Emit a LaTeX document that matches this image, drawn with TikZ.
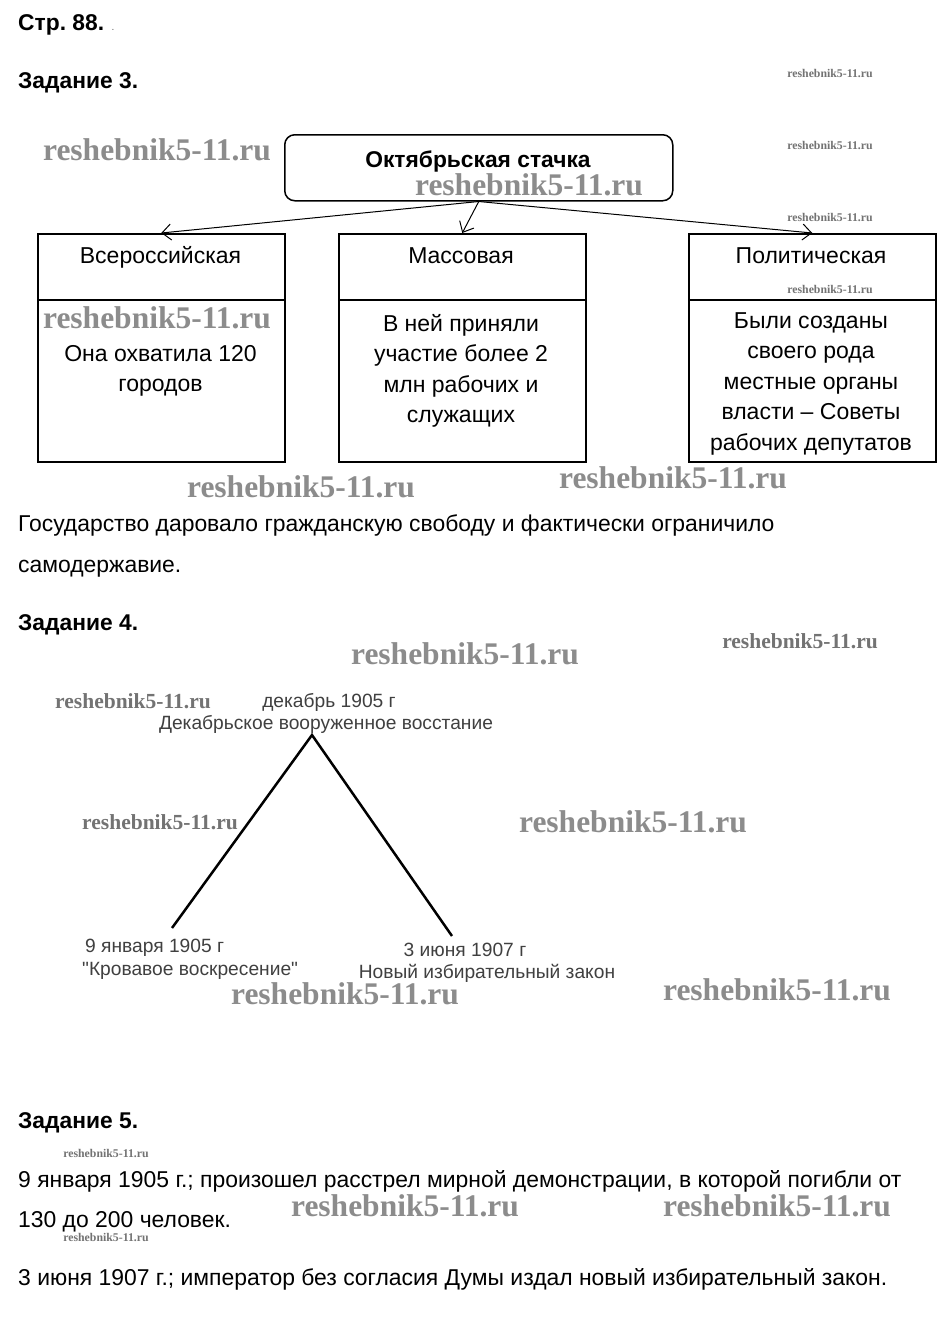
\documentclass[tikz,border=0pt]{standalone}
\usepackage{fontspec}
\setmainfont{Liberation Sans}
\newfontfamily\wmfont{Liberation Serif}
\newfontfamily\plainsans{Liberation Sans}
\usetikzlibrary{arrows.meta}
\frenchspacing
\begin{document}
\begin{tikzpicture}[x=1pt,y=-1pt,
  hdr/.style={font=\bfseries\fontsize{22.8}{26}\selectfont, anchor=base west, inner sep=0pt},
  body/.style={font=\fontsize{22.9}{40}\selectfont, anchor=base west, inner sep=0pt},
  cell/.style={draw, line width=1.5pt, anchor=north west, minimum width=247pt, inner sep=0pt},
  celltxt/.style={font=\fontsize{23}{30.5}\selectfont, align=center, inner sep=0pt},
  arr/.style={-{Straight Barb[length=9pt,width=16pt]}, line width=1pt},
  small/.style={font=\plainsans\fontsize{19.2}{22}\selectfont, text=black!75, inner sep=0pt, anchor=base},
  wmL/.style={font=\wmfont\bfseries\fontsize{31.5}{31.5}\selectfont, text=black!45, inner sep=0pt},
  wmM/.style={font=\wmfont\bfseries\fontsize{21.5}{21.5}\selectfont, text=black!55, inner sep=0pt},
  wmS/.style={font=\wmfont\bfseries\fontsize{11.8}{11.8}\selectfont, text=black!55, inner sep=0pt}]
\useasboundingbox[fill=white] (0,0) rectangle (940,1339);

% headings
\node[hdr] (p88) at (18,30) {Стр. 88.};
\node[font=\fontsize{10}{10}\selectfont, text=black!60, inner sep=0pt, anchor=base] (dot) at (113,30) {.};
\node[hdr] (z3) at (18,88) {Задание 3.};

% task 3 diagram
\node[draw, line width=1.5pt, rounded corners=10pt, minimum width=388pt, minimum height=66pt, anchor=north west, inner sep=0pt] (top) at (284,134) {};
\node[font=\bfseries\fontsize{22.8}{26}\selectfont, inner sep=0pt, anchor=base] (toptxt) at (478,167) {Октябрьская стачка};

\node[cell, minimum height=66pt] (h1) at (37,233) {};
\node[cell, minimum height=162pt] (c1) at (37,299) {};
\node[cell, minimum height=66pt] (h2) at (338,233) {};
\node[cell, minimum height=162pt] (c2) at (338,299) {};
\node[cell, minimum height=66pt] (h3) at (688,233) {};
\node[cell, minimum height=162pt] (c3) at (688,299) {};

\node[celltxt, anchor=base] (h1t) at (160.5,263) {Всероссийская};
\node[celltxt, anchor=base] (h2t) at (461,263) {Массовая};
\node[celltxt, anchor=base] (h3t) at (811,263) {Политическая};
\node[celltxt, anchor=north] (c1t) at (160.5,345) {Она охватила 120\\городов};
\node[celltxt, anchor=north] (c2t) at (461,314) {В ней приняли\\участие более 2\\млн рабочих и\\служащих};
\node[celltxt, anchor=north] (c3t) at (811,312) {Были созданы\\своего рода\\местные органы\\власти – Советы\\рабочих депутатов};

\draw[arr] (top.south) -- (h1.north);
\draw[arr] (top.south) -- (h2.north);
\draw[arr] (top.south) -- (h3.north);

\node[body] (t3a) at (18,531) {Государство даровало гражданскую свободу и фактически ограничило};
\node[body] (t3b) at (18,572) {самодержавие.};

% task 4
\node[hdr] (z4) at (18,630) {Задание 4.};
\node[small] (dec1) at (329,707) {декабрь 1905 г};
\node[small] (dec2) at (326,729) {Декабрьское вооруженное восстание};
\coordinate (apex) at (312,735);
\coordinate (lft) at (172,928);
\coordinate (rgt) at (452,936);
\draw[line width=2.5pt] (lft) -- (apex) -- (rgt);
\node[small, anchor=base west] (jan1) at (85,952) {9 января 1905 г};
\node[small, anchor=base west] (jan2) at (82,975) {"Кровавое воскресение"};
\node[small] (jun1) at (465,956) {3 июня 1907 г};
\node[small] (jun2) at (487,978) {Новый избирательный закон};

% task 5
\node[hdr] (z5) at (18,1128) {Задание 5.};
\node[body] (t5a) at (18,1187) {9 января 1905 г.; произошел расстрел мирной демонстрации, в которой погибли от};
\node[body] (t5b) at (18,1227) {130 до 200 человек.};
\node[body] (t5c) at (18,1285) {3 июня 1907 г.; император без согласия Думы издал новый избирательный закон.};

% watermarks
\node[wmL] (w1) at (157,150) {reshebnik5-11.ru};
\node[wmL] (w2) at (529,185) {reshebnik5-11.ru};
\node[wmL] (w3) at (157,318) {reshebnik5-11.ru};
\node[wmL] (w4) at (301,487) {reshebnik5-11.ru};
\node[wmL] (w5) at (673,478) {reshebnik5-11.ru};
\node[wmL] (w6) at (465,654) {reshebnik5-11.ru};
\node[wmL] (w7) at (633,822) {reshebnik5-11.ru};
\node[wmL] (w8) at (345,994) {reshebnik5-11.ru};
\node[wmL] (w9) at (777,990) {reshebnik5-11.ru};
\node[wmL] (w10) at (405,1206) {reshebnik5-11.ru};
\node[wmL] (w11) at (777,1206) {reshebnik5-11.ru};
\node[wmM] (w12) at (133,701) {reshebnik5-11.ru};
\node[wmM] (w13) at (160,822) {reshebnik5-11.ru};
\node[wmM] (w14) at (800,641) {reshebnik5-11.ru};
\node[wmS] (w15) at (830,73) {reshebnik5-11.ru};
\node[wmS] (w16) at (830,145) {reshebnik5-11.ru};
\node[wmS] (w17) at (830,217) {reshebnik5-11.ru};
\node[wmS] (w18) at (830,289) {reshebnik5-11.ru};
\node[wmS] (w19) at (106,1153) {reshebnik5-11.ru};
\node[wmS] (w20) at (106,1237) {reshebnik5-11.ru};
\end{tikzpicture}
\end{document}
